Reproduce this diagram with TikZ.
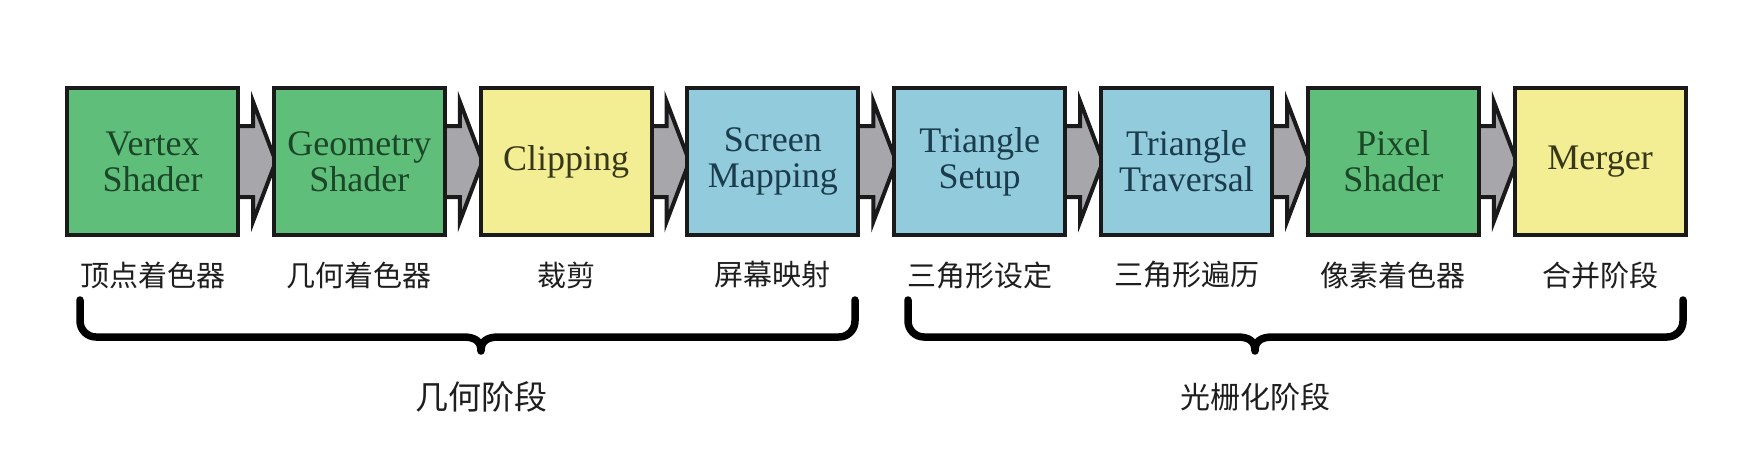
\documentclass[tikz,border=0pt]{standalone}
\usepackage{fontspec}
\setmainfont{Liberation Serif}
\newfontfamily\cjk{Noto Sans CJK SC}
\usetikzlibrary{calc}
\definecolor{gbox}{RGB}{94,190,122}
\definecolor{ybox}{RGB}{243,237,147}
\definecolor{bbox}{RGB}{146,203,220}
\definecolor{gtxt}{RGB}{28,70,40}
\definecolor{ytxt}{RGB}{55,55,25}
\definecolor{btxt}{RGB}{26,60,76}
\definecolor{edgecol}{RGB}{26,26,26}
\definecolor{arrowfill}{RGB}{166,166,171}
\definecolor{labtxt}{RGB}{30,30,30}
\pgfdeclarelayer{bg}
\pgfsetlayers{bg,main}
\newcommand\pipearrow[2]{%
  \draw[pipearr] ($(#1.east)+(-3,-35.5)$) -- ($(#1.east)+(13,-35.5)$)
    -- ($(#1.east)+(13,-60)$) -- ($(#2.west)+(4,0)$)
    -- ($(#1.east)+(13,60)$) -- ($(#1.east)+(13,35.5)$)
    -- ($(#1.east)+(-3,35.5)$) -- cycle;}
\begin{document}
\begin{tikzpicture}[x=1pt,y=-1pt,
  stage/.style={draw=edgecol, line width=4pt, minimum width=171pt,
    minimum height=147pt, inner sep=0pt, align=center,
    font=\fontsize{36}{36}\selectfont},
  gstage/.style={stage, fill=gbox, text=gtxt},
  ystage/.style={stage, fill=ybox, text=ytxt},
  bstage/.style={stage, fill=bbox, text=btxt},
  pipearr/.style={fill=arrowfill, draw=edgecol, line width=4pt, line join=miter},
  cnlab/.style={text=labtxt, font=\cjk\fontsize{29}{32}\selectfont, inner sep=0pt},
  brace/.style={draw=black, line width=7.5pt, line cap=round, line join=round},
]
\useasboundingbox (0,0) rectangle (1753,452);

\node[gstage] (b1) at (152.5,161.5) {Vertex\\Shader};
\node[gstage] (b2) at (359.3,161.5) {Geometry\\Shader};
\node[ystage] (b3) at (566.1,161.5) {Clipping};
\node[bstage] (b4) at (772.9,161.5) {Screen\\Mapping};
\node[bstage] (b5) at (979.7,161.5) {Triangle\\Setup};
\node[bstage] (b6) at (1186.5,161.5) {Triangle\\Traversal};
\node[gstage] (b7) at (1393.3,161.5) {Pixel\\Shader};
\node[ystage] (b8) at (1600.1,161.5) {Merger};

\begin{pgfonlayer}{bg}
\fill[white] (0,0) rectangle (1753,452);
\pipearrow{b1}{b2}
\pipearrow{b2}{b3}
\pipearrow{b3}{b4}
\pipearrow{b4}{b5}
\pipearrow{b5}{b6}
\pipearrow{b6}{b7}
\pipearrow{b7}{b8}
\end{pgfonlayer}

\node[cnlab] (l1) at ($(b1.center)+(0,113.5)$) {顶点着色器};
\node[cnlab] (l2) at ($(b2.center)+(0,113.5)$) {几何着色器};
\node[cnlab] (l3) at ($(b3.center)+(0,113.5)$) {裁剪};
\node[cnlab] (l4) at ($(b4.center)+(0,113.5)$) {屏幕映射};
\node[cnlab] (l5) at ($(b5.center)+(0,113.5)$) {三角形设定};
\node[cnlab] (l6) at ($(b6.center)+(0,113.5)$) {三角形遍历};
\node[cnlab] (l7) at ($(b7.center)+(0,113.5)$) {像素着色器};
\node[cnlab] (l8) at ($(b8.center)+(0,113.5)$) {合并阶段};

% braces
\coordinate (g1) at (80,300);
\coordinate (g2) at (855,300);
\coordinate (gt) at (481,351);
\draw[brace] (g1) -- (80,321) to[out=-90,in=180] (96,337) -- (463,337)
  .. controls (475,337) and (481,341) .. (gt)
  .. controls (481,341) and (487,337) .. (499,337) -- (839,337)
  to[out=0,in=-90] (855,321) -- (g2);
\coordinate (r1) at (908,300);
\coordinate (r2) at (1683,300);
\coordinate (rt) at (1255,351);
\draw[brace] (r1) -- (908,321) to[out=-90,in=180] (924,337) -- (1237,337)
  .. controls (1249,337) and (1255,341) .. (rt)
  .. controls (1255,341) and (1261,337) .. (1273,337) -- (1667,337)
  to[out=0,in=-90] (1683,321) -- (r2);

\node[text=labtxt, font=\cjk\fontsize{33}{36}\selectfont, inner sep=0pt] (s1) at (481,397) {几何阶段};
\node[text=labtxt, font=\cjk\fontsize{30}{34}\selectfont, inner sep=0pt] (s2) at (1255,397) {光栅化阶段};
\end{tikzpicture}
\end{document}
